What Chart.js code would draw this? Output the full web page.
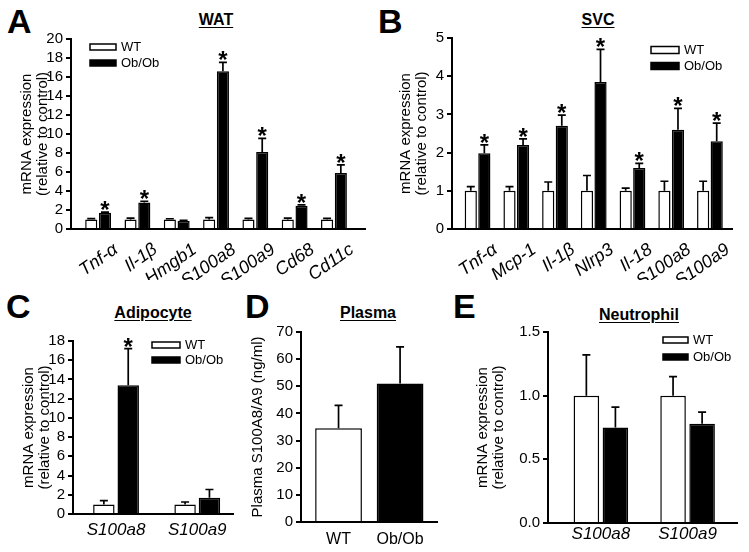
<!DOCTYPE html>
<html>
<head>
<meta charset="utf-8">
<script src="https://cdn.jsdelivr.net/npm/chart.js@4.4.0/dist/chart.umd.min.js"></script>
<style>
  body { margin: 0; background: #fff; }
  #page { position: relative; width: 749px; height: 552px; overflow: hidden; font-family: "Liberation Sans", Arial, sans-serif; }
  canvas { position: absolute; }
  .letter { position: absolute; font-weight: bold; font-size: 34px; line-height: 1; }
  .ttl { position: absolute; font-weight: bold; font-size: 16px; line-height: 1; text-decoration: underline; text-underline-offset: 2px; transform: translateX(-50%); white-space: nowrap; }
</style>
</head>
<body>
<div id="page">
  <div class="letter" style="left:7px;top:4px">A</div>
  <div class="letter" style="left:378px;top:4px">B</div>
  <div class="letter" style="left:6px;top:289px">C</div>
  <div class="letter" style="left:245px;top:289px">D</div>
  <div class="letter" style="left:453px;top:289px">E</div>
  <div class="ttl" style="left:216px;top:12px">WAT</div>
  <div class="ttl" style="left:598px;top:12px">SVC</div>
  <div class="ttl" style="left:153px;top:305px">Adipocyte</div>
  <div class="ttl" style="left:368px;top:305px">Plasma</div>
  <div class="ttl" style="left:639px;top:307px">Neutrophil</div>

  <canvas id="cA" width="372" height="280" style="left:0;top:0"></canvas>
  <canvas id="cB" width="377" height="280" style="left:372px;top:0"></canvas>
  <canvas id="cC" width="245" height="272" style="left:0;top:280px"></canvas>
  <canvas id="cD" width="205" height="272" style="left:245px;top:280px"></canvas>
  <canvas id="cE" width="299" height="272" style="left:450px;top:280px"></canvas>
</div>

<script>
// ---- data ----
const catsA = ['Tnf-α', 'Il-1β', 'Hmgb1', 'S100a8', 'S100a9', 'Cd68', 'Cd11c'];
const wtA = [1, 1, 1, 1, 1, 1, 1];
const wtErrA = [0.1, 0.15, 0.08, 0.2, 0.12, 0.15, 0.12];
const obA = [1.7, 2.8, 0.85, 16.6, 8.1, 2.45, 5.9];
const obErrA = [0.08, 0.12, 0.05, 0.95, 1.45, 0.1, 0.85];
const starsA = [1, 1, 0, 1, 1, 1, 1];
const ticksA = { max: 20, step: 2 };

const catsB = ['Tnf-α', 'Mcp-1', 'Il-1β', 'Nlrp3', 'Il-18', 'S100a8', 'S100a9'];
const wtB = [1, 1, 1, 1, 1, 1, 1];
const wtErrB = [0.11, 0.11, 0.23, 0.4, 0.07, 0.25, 0.25];
const obB = [1.98, 2.2, 2.7, 3.85, 1.6, 2.6, 2.3];
const obErrB = [0.22, 0.16, 0.28, 0.85, 0.12, 0.56, 0.47];
const starsB = [1, 1, 1, 1, 1, 1, 1];
const ticksB = { max: 5, step: 1 };

const catsC = ['S100a8', 'S100a9'];
const wtC = [1, 1];
const wtErrC = [0.4, 0.25];
const obC = [13.4, 1.7];
const obErrC = [3.8, 0.85];
const starsC = [1, 0];
const ticksC = { max: 18, step: 2 };

const catsD = ['WT', 'Ob/Ob'];
const plasmaD = [34.5, 51];
const plasmaErrD = [8.5, 13.5];
const ticksD = { max: 70, step: 10 };

const catsE = ['S100a8', 'S100a9'];
const wtE = [1, 1];
const wtErrE = [0.32, 0.15];
const obE = [0.75, 0.78];
const obErrE = [0.16, 0.09];
const ticksE = { max: 1.5, step: 0.5 };

const FONT = '"Liberation Sans", Arial, sans-serif';
Chart.defaults.font.family = FONT;
Chart.defaults.color = '#000';

// error whiskers (upper only) + significance stars
const errorBars = {
  id: 'errorBars',
  afterDatasetsDraw(chart) {
    const ctx = chart.ctx, y = chart.scales.y;
    ctx.save();
    ctx.strokeStyle = '#000';
    ctx.fillStyle = '#000';
    ctx.lineWidth = 1.7;
    chart.data.datasets.forEach((ds, di) => {
      chart.getDatasetMeta(di).data.forEach((bar, i) => {
        const v = ds.data[i].y;
        const top = y.getPixelForValue(v + ds.err[i]);
        ctx.beginPath();
        ctx.moveTo(bar.x, bar.y);
        ctx.lineTo(bar.x, top);
        ctx.moveTo(bar.x - 4, top);
        ctx.lineTo(bar.x + 4, top);
        ctx.stroke();
        if (ds.stars && ds.stars[i]) {
          ctx.font = 'bold 24px ' + FONT;
          ctx.textAlign = 'center';
          ctx.textBaseline = 'alphabetic';
          ctx.fillText('*', bar.x, top + 6);
        }
      });
    });
    ctx.restore();
  }
};

// small WT / Ob/Ob key
const boxLegend = {
  id: 'boxLegend',
  afterDraw(chart, args, o) {
    if (o.x == null) return;
    const ctx = chart.ctx;
    ctx.save();
    ctx.lineWidth = 1.5;
    ctx.strokeStyle = '#000';
    ctx.font = o.size + 'px ' + FONT;
    ctx.textBaseline = 'middle';
    [['WT', '#fff'], ['Ob/Ob', '#000']].forEach(([t, c], k) => {
      const yy = o.y + k * o.gap;
      ctx.fillStyle = c;
      ctx.fillRect(o.x, yy - o.h / 2, o.w, o.h);
      ctx.strokeRect(o.x, yy - o.h / 2, o.w, o.h);
      ctx.fillStyle = '#000';
      ctx.fillText(t, o.x + o.w + 5, yy);
    });
    ctx.restore();
  }
};

function pts(vals) {
  return vals.map((v, i) => ({ x: i, y: v }));
}

function makePanel(id, p) {
  new Chart(document.getElementById(id), {
    type: 'bar',
    data: { datasets: p.datasets },
    plugins: [errorBars, boxLegend],
    options: {
      responsive: false,
      animation: false,
      layout: { padding: p.pad },
      categoryPercentage: p.catPct,
      barPercentage: p.barPct,
      plugins: {
        legend: { display: false },
        tooltip: { enabled: false },
        boxLegend: p.legend || {}
      },
      scales: {
        x: {
          type: 'linear',
          offset: false,
          min: p.xr[0],
          max: p.xr[1],
          afterBuildTicks: s => { s.ticks = p.cats.map((c, i) => ({ value: i })); },
          afterFit: s => { s.height = p.xh; },
          grid: { offset: false, drawOnChartArea: false, drawTicks: false },
          border: { color: '#000', width: 2 },
          ticks: {
            autoSkip: false,
            maxRotation: p.rot,
            minRotation: p.rot,
            labelOffset: p.labelOffset || 0,
            padding: p.xpad,
            font: { size: p.xfont, style: p.italic ? 'italic' : 'normal' },
            color: '#000',
            callback: v => p.cats[v]
          }
        },
        y: {
          min: 0,
          max: p.ticks.max,
          afterFit: s => { s.width = p.yw; },
          grid: { drawOnChartArea: false, drawTicks: true, tickLength: 5, color: '#000', lineWidth: 2 },
          border: { color: '#000', width: 2 },
          ticks: {
            autoSkip: false,
            stepSize: p.ticks.step,
            padding: 3,
            font: { size: 15 },
            color: '#000',
            callback: p.fmt || (v => v)
          },
          title: {
            display: true,
            text: p.ytitle,
            font: { size: 15, lineHeight: 1.05 },
            color: '#000',
            padding: { top: p.tpad, bottom: 0 }
          }
        }
      }
    }
  });
}

function wtSet(vals, err) {
  return { label: 'WT', data: pts(vals), err, backgroundColor: '#fff', borderColor: '#000', borderWidth: 1.5 };
}
function obSet(vals, err, stars) {
  return { label: 'Ob/Ob', data: pts(vals), err, stars, backgroundColor: '#000', borderColor: '#000', borderWidth: 1.5 };
}

const mrna = ['mRNA expression', '(relative to control)'];

makePanel('cA', {
  cats: catsA, ticks: ticksA, ytitle: mrna,
  datasets: [wtSet(wtA, wtErrA), obSet(obA, obErrA, starsA)],
  pad: { left: 0, top: 39, right: 7, bottom: 0 }, yw: 71, xh: 51, xr: [-0.69, 6.79],
  catPct: 0.7, barPct: 0.88, rot: 35, labelOffset: 18, xpad: 10, xfont: 18, italic: true, tpad: 19,
  legend: { x: 90, y: 47, gap: 16, w: 26, h: 6, size: 13 }
});

makePanel('cB', {
  cats: catsB, ticks: ticksB, ytitle: mrna,
  datasets: [wtSet(wtB, wtErrB), obSet(obB, obErrB, starsB)],
  pad: { left: 0, top: 38, right: 17, bottom: 0 }, yw: 80, xh: 51, xr: [-0.66, 6.57],
  catPct: 0.7, barPct: 0.9, rot: 35, labelOffset: 18, xpad: 10, xfont: 18, italic: true, tpad: 26,
  legend: { x: 279, y: 50, gap: 16, w: 28, h: 7, size: 13 }
});

makePanel('cC', {
  cats: catsC, ticks: ticksC, ytitle: mrna,
  datasets: [wtSet(wtC, wtErrC), obSet(obC, obErrC, starsC)],
  pad: { left: 0, top: 61, right: 12, bottom: 0 }, yw: 73, xh: 38, xr: [-0.53, 1.44],
  catPct: 0.6, barPct: 0.88, rot: 0, xpad: 6, xfont: 17, italic: true, tpad: 21,
  legend: { x: 152, y: 65, gap: 15, w: 28, h: 6, size: 13 }
});

makePanel('cD', {
  cats: catsD, ticks: ticksD, ytitle: 'Plasma S100A8/A9 (ng/ml)',
  datasets: [{
    label: 'Plasma', data: pts(plasmaD), err: plasmaErrD,
    backgroundColor: ['#fff', '#000'], borderColor: '#000', borderWidth: 1.5
  }],
  pad: { left: 0, top: 52, right: 13, bottom: 0 }, yw: 56, xh: 30, xr: [-0.61, 1.6],
  catPct: 1, barPct: 0.76, rot: 0, xpad: 8, xfont: 16, italic: false, tpad: 5
});

makePanel('cE', {
  cats: catsE, ticks: ticksE, ytitle: mrna, fmt: v => v.toFixed(1),
  datasets: [wtSet(wtE, wtErrE), obSet(obE, obErrE)],
  pad: { left: 0, top: 52, right: 12, bottom: 0 }, yw: 98, xh: 29, xr: [-0.61, 1.57],
  catPct: 0.67, barPct: 0.88, rot: 0, xpad: 1, xfont: 17, italic: true, tpad: 25,
  legend: { x: 213, y: 60, gap: 17, w: 25, h: 6, size: 13 }
});
</script>
</body>
</html>
